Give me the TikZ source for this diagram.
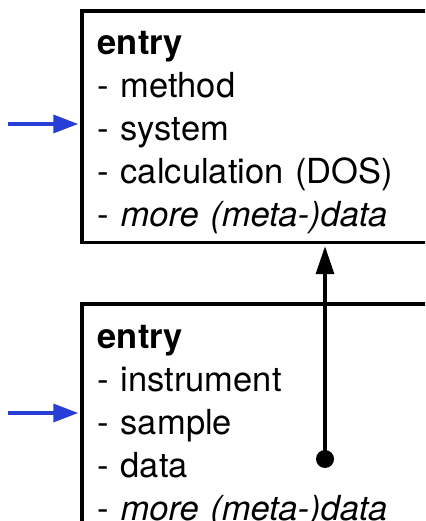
\documentclass[tikz,border=0pt]{standalone}
\usepackage{fontspec}
\setmainfont{TeX Gyre Heros}
\usepackage{xcolor}
\definecolor{inblue}{RGB}{40,62,214}
\usetikzlibrary{arrows.meta, positioning}

\begin{document}
\begin{tikzpicture}[
    x=1pt, y=1pt,
    entrybox/.style={draw=black, line width=3.5pt, fill=white, align=left,
        text width=380pt, inner xsep=16pt, inner ysep=0pt,
        font=\fontsize{34.5}{43}\selectfont},
    link/.style={line width=3.5pt, -{Triangle[length=28pt, width=18pt]}, shorten >=1.75pt},
    input/.style={draw=inblue, line width=3.5pt, -{Triangle[length=25pt, width=18pt]}, shorten >=1.75pt}
]

% Frame
\useasboundingbox (0,0) rectangle (425,521);
\clip (0,0) rectangle (425,521);

% Entries
\node[entrybox, anchor=north west, text height=43.5pt, text depth=188pt] (calcentry) at (80,511.5) {
    \textbf{entry}\\
    - method\\
    - system\\
    - calculation (DOS)\\
    - \textit{more (meta-)data}
};
\node[entrybox, below right=58pt and 0pt of calcentry.south west, text height=44pt, text depth=200pt] (expentry) {
    \textbf{entry}\\
    - instrument\\
    - sample\\
    - data\\
    - \textit{more (meta-)data}
};

% Links
\coordinate (datapt) at (325,62);
\fill (datapt) circle (9pt);
\draw[link] (datapt) -- (datapt |- calcentry.south);

\coordinate (calcin) at (8,397);
\coordinate (expin) at (8,108);
\draw[input] (calcin) -- (calcin -| calcentry.west);
\draw[input] (expin) -- (expin -| expentry.west);
\end{tikzpicture}
\end{document}
